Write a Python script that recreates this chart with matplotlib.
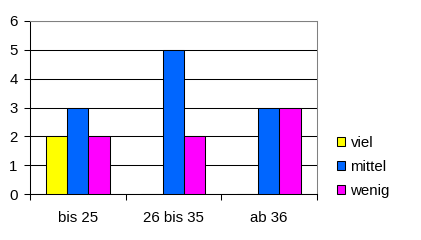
import numpy as np
import matplotlib
matplotlib.use("Agg")
import matplotlib.pyplot as plt

plt.rcParams['font.family'] = ['Liberation Sans', 'DejaVu Sans']
plt.rcParams['font.size'] = 10.8

categories = ["bis 25", "26 bis 35", "ab 36"]
series = ["viel", "mittel", "wenig"]
viel = [2, 0, 0]
mittel = [3, 5, 3]
wenig = [2, 2, 3]
colors = ["#FFFF00", "#0066FF", "#FF00FF"]

fig = plt.figure(figsize=(4.21, 2.40), dpi=100)
ax = fig.add_axes([30 / 421, 46 / 240, 286.5 / 421, 173 / 240])

x = np.arange(len(categories))
w = 0.224
for k, (vals, name, c) in enumerate(zip([viel, mittel, wenig], series, colors)):
    ax.bar(x + (k - 1) * w, vals, width=w, color=c, edgecolor="black",
           linewidth=0.75, label=name, zorder=3)

ax.set_xlim(-0.5, 2.5)
ax.set_ylim(0, 6)
ax.set_yticks(range(7))
ax.yaxis.grid(True, color="black", linewidth=0.75, zorder=0)

ax.set_xticks(x)
ax.set_xticklabels(categories)
ax.set_xticks([-0.5, 0.5, 1.5, 2.5], minor=True)
ax.tick_params(axis="x", which="major", length=0, pad=12)
ax.tick_params(axis="x", which="minor", length=4, width=0.75, direction="out")
ax.tick_params(axis="y", length=4, width=0.75, direction="out", pad=5)

for s in ["left", "bottom"]:
    ax.spines[s].set_color("black")
    ax.spines[s].set_linewidth(0.75)
for s in ["top", "right"]:
    ax.spines[s].set_color("#808080")
    ax.spines[s].set_linewidth(0.75)

ax.legend(loc="center left", bbox_to_anchor=(337 / 421, (240 - 167) / 240),
          bbox_transform=fig.transFigure, frameon=False,
          handlelength=0.55, handleheight=0.55, handletextpad=0.35,
          labelspacing=0.65, borderpad=0, borderaxespad=0)

fig.savefig("out.png", dpi=100)
